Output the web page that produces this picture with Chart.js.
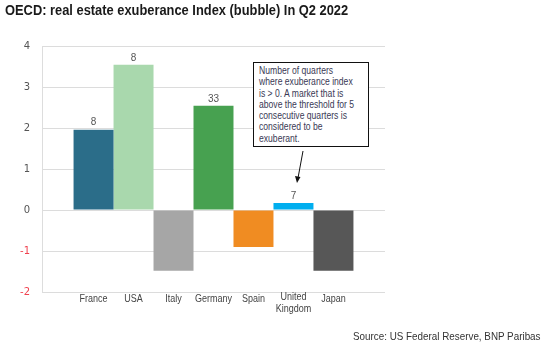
<!DOCTYPE html>
<html>
<head>
<meta charset="utf-8">
<script src="https://cdn.jsdelivr.net/npm/chart.js@4"></script>
<style>
    html, body { margin: 0; padding: 0; background: #ffffff; }
    #wrap { position: relative; width: 552px; height: 351px; }
    .txt {
        position: absolute; white-space: nowrap;
        font-family: 'Liberation Sans', sans-serif;
        transform-origin: left top;
    }
    #title { left: 5px; top: 1px; font-size: 15.5px; font-weight: bold; color: #1a1a1a; transform: scaleX(0.83); }
    #source { left: 353px; top: 330px; font-size: 11px; color: #333333; transform: scaleX(0.895); }
    #note {
        position: absolute; left: 253px; top: 62px; width: 114px; height: 83px;
        border: 1px solid #111111; background: #ffffff;
    }
    #note .txt { left: 5px; top: 2px; font-size: 10px; line-height: 11.3px; color: #3a3a55; transform: scaleX(0.86); }
    canvas { position: absolute; left: 0; top: 0; }
</style>
</head>
<body>
<div id="wrap">
    <canvas id="chart" width="552" height="351"></canvas>
    <div id="title" class="txt">OECD: real estate exuberance Index (bubble) In Q2 2022</div>
    <div id="note"><div class="txt">Number of quarters<br>where exuberance index<br>is &gt; 0. A market that is<br>above the threshold for 5<br>consecutive quarters is<br>considered to be<br>exuberant.</div></div>
    <div id="source" class="txt">Source: US Federal Reserve, BNP Paribas</div>
</div>
<script>
const countries = ['France', 'USA', 'Italy', 'Germany', 'Spain', 'United Kingdom', 'Japan'];
const indexValues = [1.96, 3.54, -1.48, 2.54, -0.9, 0.17, -1.48];
const quarterCounts = ['8', '8', '', '33', '', '7', ''];
const barColors = ['#2b6d89', '#a9d8ad', '#a6a6a6', '#47a150', '#f08c22', '#00aeef', '#575757'];
const yTicks = [-2, -1, 0, 1, 2, 3, 4];

const labelFont = "10px 'Liberation Sans', sans-serif";

// text squeezed a little to look like the narrow house font
const narrowText = (ctx, text, x, y) => {
    ctx.save();
    ctx.translate(x, y);
    ctx.scale(0.9, 1);
    ctx.fillText(text, 0, 0);
    ctx.restore();
};

// draws country names under each bar, counts above bars and the arrow to the note
const extrasPlugin = {
    id: 'extras',
    afterDatasetsDraw(chart) {
        const { ctx } = chart;
        ctx.save();
        ctx.font = labelFont;
        ctx.textAlign = 'center';
        chart.data.datasets.forEach((dataset, i) => {
            const bar = chart.getDatasetMeta(i).data[0];
            const words = countries[i].split(' ');
            ctx.fillStyle = '#444444';
            ctx.textBaseline = 'middle';
            if (words.length > 1) {
                narrowText(ctx, words[0], bar.x, 297);
                narrowText(ctx, words.slice(1).join(' '), bar.x, 309);
            } else {
                narrowText(ctx, countries[i], bar.x, 299);
            }
            if (quarterCounts[i]) {
                const top = Math.min(bar.y, bar.base);
                ctx.fillStyle = '#555555';
                ctx.textBaseline = 'bottom';
                ctx.fillText(quarterCounts[i], bar.x, top - 2);
            }
        });

        // arrow from the note box to the UK count
        ctx.strokeStyle = '#111111';
        ctx.fillStyle = '#111111';
        ctx.lineWidth = 1;
        ctx.beginPath();
        ctx.moveTo(303, 151);
        ctx.lineTo(298, 178);
        ctx.stroke();
        ctx.beginPath();
        ctx.moveTo(297, 183);
        ctx.lineTo(295, 176);
        ctx.lineTo(300.5, 177);
        ctx.closePath();
        ctx.fill();
        ctx.restore();
    },
};

new Chart(document.getElementById('chart'), {
    type: 'bar',
    data: {
        labels: [''],
        datasets: countries.map((name, i) => ({
            label: name,
            data: [indexValues[i]],
            backgroundColor: barColors[i],
            borderWidth: 0,
            barPercentage: 1,
            categoryPercentage: 0.816,
        })),
    },
    options: {
        responsive: false,
        animation: false,
        layout: {
            padding: { top: 46, bottom: 59, left: 0, right: 167 },
        },
        plugins: {
            legend: { display: false },
            tooltip: { enabled: false },
        },
        scales: {
            x: { display: false },
            y: {
                min: -2,
                max: 4,
                afterFit(scale) {
                    scale.width = 42;
                },
                afterBuildTicks(scale) {
                    scale.ticks = yTicks.map((v) => ({ value: v }));
                },
                border: { color: '#dddddd' },
                grid: { color: '#dcdcdc', drawTicks: false },
                ticks: {
                    padding: 12,
                    font: { family: "'DejaVu Sans', sans-serif", size: 10 },
                    color: (c) => (c.tick.value < 0 ? '#f0424f' : '#555555'),
                },
            },
        },
    },
    plugins: [extrasPlugin],
});
</script>
</body>
</html>
